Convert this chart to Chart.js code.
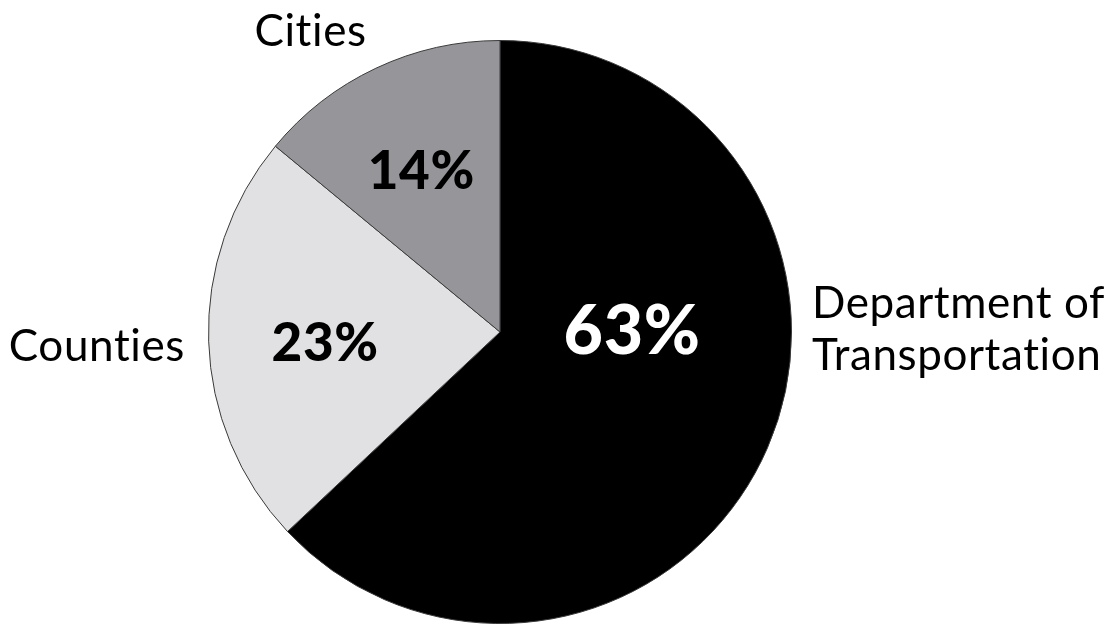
<!DOCTYPE html>
<html>
<head>
<meta charset="utf-8">
<script src="https://cdn.jsdelivr.net/npm/chart.js@4/dist/chart.umd.min.js"></script>
<style>
  html, body { margin: 0; padding: 0; background: #fff; }
  #wrap { width: 1112px; height: 624px; position: relative; }
</style>
</head>
<body>
<div id="wrap"><canvas id="chart"></canvas></div>
<script>
// Share of funding by recipient
const categories = ['Department of Transportation', 'Counties', 'Cities'];
const shares = [63, 23, 14];
const sliceColors = ['#000000', '#e1e1e3', '#96969a'];
const pctColors = ['#ffffff', '#000000', '#000000'];

// label placement, relative to pie centre in units of radius
const pctSpots = [[0.453, 0.0], [-0.60, 0.04], [-0.27, -0.55]];
const nameSpots = [
    { dx: 1.07, dy: -0.007, align: 'left', lines: ['Department of', 'Transportation'] },
    { dx: -1.383, dy: 0.05, align: 'center', lines: ['Counties'] },
    { dx: -0.65, dy: -1.03, align: 'center', lines: ['Cities'] }
];

const FONT = 'Lato, "Noto Sans", sans-serif';

const labelPlugin = {
    id: 'pieLabels',
    afterDraw(chart) {
        const ctx = chart.ctx;
        const arcs = chart.getDatasetMeta(0).data;
        if (!arcs.length) return;
        const cx = arcs[0].x, cy = arcs[0].y, r = arcs[0].outerRadius;
        ctx.save();
        ctx.textBaseline = 'middle';
        // small spacing also keeps the font from joining "ti" into a ligature
        ctx.letterSpacing = '0.6px';

        // percentages inside slices
        shares.forEach((v, i) => {
            const big = i === 0;
            ctx.font = '900 ' + (big ? 68 : 53) + 'px ' + FONT;
            ctx.fillStyle = pctColors[i];
            ctx.textAlign = 'center';
            ctx.fillText(v + '%', cx + pctSpots[i][0] * r, cy + pctSpots[i][1] * r);
        });

        // category names outside
        ctx.font = '400 44px ' + FONT;
        ctx.fillStyle = '#000';
        nameSpots.forEach(s => {
            ctx.textAlign = s.align;
            const y0 = cy + s.dy * r - (s.lines.length - 1) * 26;
            s.lines.forEach((ln, k) => {
                ctx.fillText(ln, cx + s.dx * r, y0 + k * 52);
            });
        });
        ctx.restore();
    }
};

new Chart(document.getElementById('chart'), {
    type: 'pie',
    data: {
        labels: categories,
        datasets: [{
            data: shares,
            backgroundColor: sliceColors,
            borderColor: '#3a3a3a',
            borderWidth: 1
        }]
    },
    options: {
        responsive: true,
        maintainAspectRatio: false,
        animation: false,
        layout: { padding: { left: 208, right: 320, top: 40, bottom: 0 } },
        plugins: {
            legend: { display: false },
            tooltip: { enabled: false }
        }
    },
    plugins: [labelPlugin]
});
</script>
</body>
</html>
